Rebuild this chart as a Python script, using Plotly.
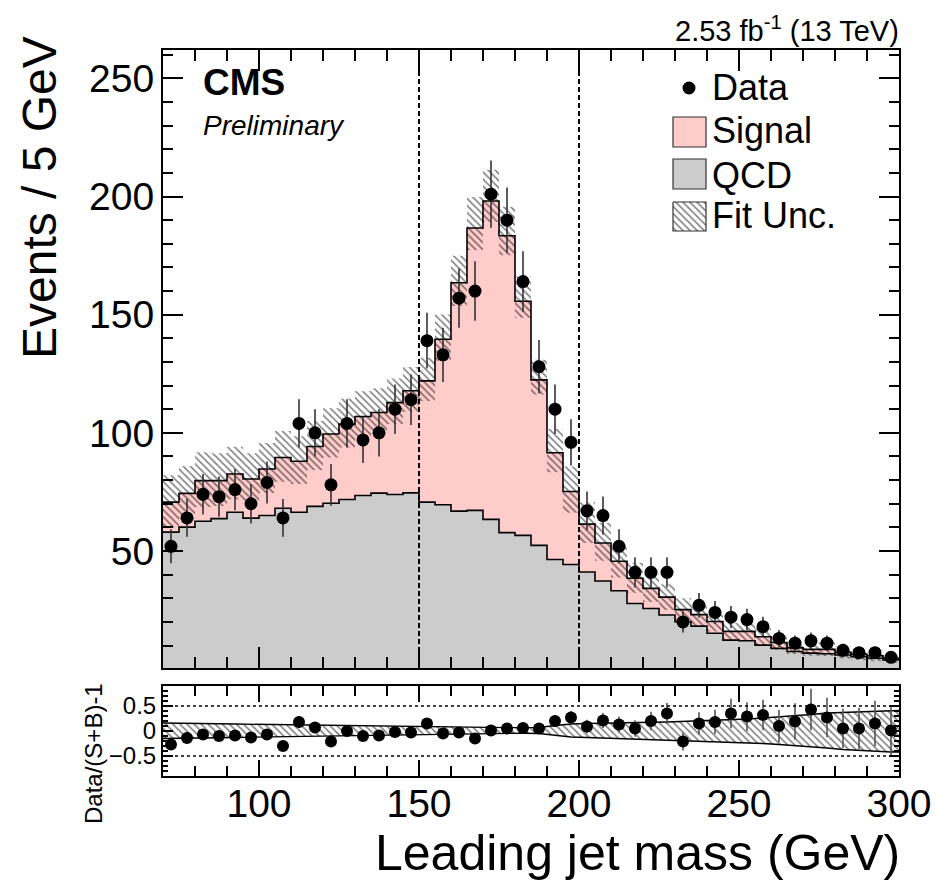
import numpy as np
import plotly.graph_objects as go

# ---------------- data ----------------
bin_edges = list(range(70, 305, 5))          # 70 ... 300, 46 bins of 5 GeV
bin_centers = [e + 2.5 for e in bin_edges[:-1]]

data = [52, 64, 74, 73, 76, 70, 79, 64, 104, 100, 78, 104, 97, 100, 110, 114,
        139, 133, 157, 160, 201, 190, 164, 128, 110, 96, 67, 65, 52, 41, 41, 41,
        20, 27, 24, 22, 21, 18, 13, 11, 12, 11, 8, 7, 7, 5]
data_err = [7.2, 8.0, 8.6, 8.5, 8.7, 8.4, 8.9, 8.0, 10.2, 10.0, 8.8, 10.2, 9.8, 10.0,
            10.5, 10.7, 11.8, 11.5, 12.5, 12.6, 14.2, 13.8, 12.8, 11.3, 10.5, 9.8,
            8.2, 8.1, 7.2, 6.4, 6.4, 6.4, 4.5, 5.2, 4.9, 4.7, 4.6, 4.2, 3.6, 3.3,
            3.5, 3.3, 2.8, 2.6, 2.6, 2.2]
qcd = [58.0, 60.1, 62.6, 63.7, 66.4, 63.9, 65.0, 68.1, 66.4, 68.9, 70.2, 71.8,
       73.5, 74.5, 73.9, 74.6, 70.7, 69.6, 66.9, 67.2, 63.4, 57.8, 56.6, 52.4,
       46.4, 44.3, 41.1, 37.3, 33.2, 27.8, 25.7, 22.9, 20.1, 18.2, 15.2, 12.3,
       12.0, 10.2, 8.8, 7.5, 6.8, 6.5, 6.0, 5.3, 4.6, 3.9]
signal = [12.7, 14.3, 17.2, 16.1, 16.2, 16.6, 19.7, 21.5, 21.6, 25.3, 29.3, 31.9,
          33.4, 34.1, 38.9, 43.2, 51.3, 70.0, 96.6, 119.5, 134.7, 125.6, 99.1, 70.0,
          45.2, 30.9, 20.3, 16.1, 12.5, 10.7, 8.5, 7.6, 5.1, 4.9, 5.0, 3.7,
          4.0, 3.5, 2.5, 1.5, 1.6, 1.9, 1.1, 1.0, 1.1, 0.6]
# relative fit uncertainty (upper / lower edge of the band)
rel_up = [0.16, 0.155, 0.15, 0.145, 0.14, 0.135, 0.13, 0.125, 0.12, 0.115, 0.11,
          0.105, 0.10, 0.095, 0.09, 0.085, 0.08, 0.075, 0.07, 0.07, 0.067, 0.067,
          0.067, 0.07, 0.11, 0.14, 0.15, 0.16, 0.165, 0.17, 0.175, 0.18, 0.19,
          0.20, 0.21, 0.22, 0.24, 0.26, 0.28, 0.30, 0.33, 0.36, 0.37, 0.38, 0.40, 0.41]
rel_dn = [-0.15, -0.145, -0.14, -0.135, -0.13, -0.125, -0.12, -0.115, -0.11, -0.105,
          -0.10, -0.095, -0.09, -0.085, -0.08, -0.075, -0.07, -0.065, -0.06, -0.05,
          -0.045, -0.045, -0.045, -0.05, -0.09, -0.12, -0.13, -0.14, -0.15, -0.16,
          -0.17, -0.18, -0.19, -0.20, -0.21, -0.22, -0.23, -0.25, -0.27, -0.29,
          -0.32, -0.34, -0.37, -0.39, -0.41, -0.42]
ratio = [-0.27, -0.14, -0.07, -0.10, -0.09, -0.13, -0.07, -0.30, 0.18, 0.07, -0.21,
         0.0, -0.10, -0.09, -0.02, -0.03, 0.15, -0.05, -0.03, -0.15, 0.01, 0.05,
         0.06, 0.05, 0.20, 0.27, 0.09, 0.21, 0.13, 0.05, 0.20, 0.35, -0.21, 0.15,
         0.18, 0.35, 0.29, 0.32, 0.10, 0.19, 0.43, 0.27, 0.05, 0.05, 0.15, 0.01]

x_ticks = [100, 150, 200, 250, 300]
y_ticks = [50, 100, 150, 200, 250]
r_ticks = [-0.5, 0, 0.5]
window_lines = [150, 200]

# ---------------- derived ----------------
qcd_a = np.array(qcd)
total = qcd_a + np.array(signal)
band_hi = total * (1 + np.array(rel_up))
band_lo = total * (1 + np.array(rel_dn))
ratio_err = np.array(data_err) / total


def step(vals):
    v = list(vals)
    return v + [v[-1]]


FONT = "Liberation Sans"
W, H = 936, 881
ML, MR, MT, MB = 163, 37, 50, 105
PW, PH = W - ML - MR, H - MT - MB


def px(xp):
    return (xp - ML) / PW


def py(yp):
    return (H - MB - yp) / PH


main_bottom = py(668)
ratio_top = py(686)

HATCH = dict(shape="\\", fgcolor="black", size=5.0, solidity=0.32)

fig = go.Figure()

# QCD filled histogram
fig.add_trace(go.Scatter(x=bin_edges, y=step(qcd), mode="lines", line=dict(shape="hv", width=0),
                         fill="tozeroy", fillcolor="#CCCCCC", hoverinfo="skip",
                         showlegend=False, xaxis="x", yaxis="y"))
# Signal stacked on top
fig.add_trace(go.Scatter(x=bin_edges, y=step(total), mode="lines", line=dict(shape="hv", width=0),
                         fill="tonexty", fillcolor="#FFCCCC", hoverinfo="skip",
                         showlegend=False, xaxis="x", yaxis="y"))
# Fit uncertainty band (hatched)
fig.add_trace(go.Scatter(x=bin_edges, y=step(band_lo), mode="lines", line=dict(shape="hv", width=0),
                         hoverinfo="skip", showlegend=False, xaxis="x", yaxis="y"))
fig.add_trace(go.Scatter(x=bin_edges, y=step(band_hi), mode="lines", line=dict(shape="hv", width=0),
                         fill="tonexty", fillcolor="rgba(0,0,0,0)", fillpattern=HATCH,
                         hoverinfo="skip", showlegend=False, xaxis="x", yaxis="y"))
# outlines
fig.add_trace(go.Scatter(x=bin_edges, y=step(qcd), mode="lines",
                         line=dict(shape="hv", width=1.6, color="black"),
                         hoverinfo="skip", showlegend=False, xaxis="x", yaxis="y"))
fig.add_trace(go.Scatter(x=bin_edges, y=step(total), mode="lines",
                         line=dict(shape="hv", width=1.6, color="black"),
                         hoverinfo="skip", showlegend=False, xaxis="x", yaxis="y"))
# data
fig.add_trace(go.Scatter(x=bin_centers, y=data, mode="markers",
                         marker=dict(color="black", size=13),
                         error_y=dict(type="data", array=data_err, width=0, thickness=1.6, color="#333333"),
                         showlegend=False, xaxis="x", yaxis="y"))

# ratio panel band
band_x = [bin_edges[0]] + bin_centers + [bin_edges[-1]]
fig.add_trace(go.Scatter(x=band_x, y=[rel_dn[0]] + rel_dn + [rel_dn[-1]], mode="lines",
                         line=dict(width=1.3, color="black"), hoverinfo="skip",
                         showlegend=False, xaxis="x2", yaxis="y2"))
fig.add_trace(go.Scatter(x=band_x, y=[rel_up[0]] + rel_up + [rel_up[-1]], mode="lines",
                         line=dict(width=1.3, color="black"), fill="tonexty",
                         fillcolor="rgba(0,0,0,0)", fillpattern=HATCH,
                         hoverinfo="skip", showlegend=False, xaxis="x2", yaxis="y2"))
fig.add_trace(go.Scatter(x=bin_centers, y=ratio, mode="markers",
                         marker=dict(color="black", size=12),
                         error_y=dict(type="data", array=list(ratio_err), width=0, thickness=1.6, color="#555555"),
                         showlegend=False, xaxis="x2", yaxis="y2"))

# legend hatch glyph on a hidden pixel-coordinate axis
fig.add_trace(go.Scatter(x=[673, 706, 706, 673, 673], y=[202, 202, 231, 231, 202], mode="lines",
                         line=dict(width=1.2, color="#333333"), fill="toself", fillcolor="white",
                         fillpattern=dict(shape="\\", fgcolor="black", bgcolor="white", size=5.0,
                                          solidity=0.32),
                         hoverinfo="skip", showlegend=False, xaxis="x3", yaxis="y3"))

axis_common = dict(showline=True, linewidth=2, linecolor="black", mirror="ticks",
                   ticks="inside", tickwidth=2, tickcolor="black", showgrid=False,
                   zeroline=False, automargin=False)

fig.update_layout(
    width=W, height=H, paper_bgcolor="white", plot_bgcolor="rgba(0,0,0,0)",
    margin=dict(l=ML, r=MR, t=MT, b=MB, autoexpand=False),
    font=dict(family=FONT, color="black"),
    showlegend=False,
    xaxis=dict(domain=[0, 1], anchor="y", range=[70, 300], tickvals=x_ticks, showticklabels=False,
               ticklen=21, minor=dict(dtick=10, tick0=0, ticklen=11, ticks="inside", tickwidth=2,
                                      tickcolor="black"), **axis_common),
    yaxis=dict(domain=[main_bottom, 1], anchor="x", range=[0.5, 262], tickvals=y_ticks,
               ticklen=20, tickfont=dict(size=39), ticklabelstandoff=-1,
               minor=dict(dtick=10, tick0=0, ticklen=10, ticks="inside", tickwidth=2, tickcolor="black"),
               **axis_common),
    xaxis2=dict(domain=[0, 1], anchor="y2", range=[70, 300], tickvals=x_ticks, ticklen=16,
                tickfont=dict(size=39), ticklabelstandoff=-8,
                minor=dict(dtick=10, tick0=0, ticklen=10, ticks="inside", tickwidth=2, tickcolor="black"),
                **axis_common),
    yaxis2=dict(domain=[0, ratio_top], anchor="x2", range=[-0.9, 0.9], tickvals=r_ticks,
                ticktext=["\u22120.5", "0", "0.5"], ticklen=10, tickfont=dict(size=24),
                ticklabelstandoff=0,
                minor=dict(dtick=0.1, tick0=0, ticklen=5, ticks="inside", tickwidth=1.5, tickcolor="black"),
                **axis_common),
    xaxis3=dict(domain=[0, 1], anchor="y3", range=[ML, W - MR], visible=False, fixedrange=True),
    yaxis3=dict(domain=[0, 1], anchor="x3", range=[H - MB, MT], visible=False, fixedrange=True),
)

shapes = []
for xv in window_lines:
    shapes.append(dict(type="line", xref="x", yref="y domain", x0=xv, x1=xv, y0=0, y1=1,
                       line=dict(color="black", width=2, dash="5px,3px")))
for yv in [-0.5, 0.5]:
    shapes.append(dict(type="line", xref="x2 domain", yref="y2", x0=0, x1=1, y0=yv, y1=yv,
                       line=dict(color="black", width=1.5, dash="dot")))
# legend glyphs
shapes.append(dict(type="circle", xref="paper", yref="paper", x0=px(682.5), x1=px(695.5),
                   y0=py(94.5), y1=py(81.5), fillcolor="black", line=dict(width=0)))
shapes.append(dict(type="rect", xref="paper", yref="paper", x0=px(673), x1=px(706),
                   y0=py(147), y1=py(117), fillcolor="#FFCCCC", line=dict(color="#333333", width=1.2)))
shapes.append(dict(type="rect", xref="paper", yref="paper", x0=px(673), x1=px(706),
                   y0=py(189), y1=py(159), fillcolor="#CCCCCC", line=dict(color="#333333", width=1.2)))
fig.update_layout(shapes=shapes)


def ann(text, xp, yp, size, xanchor="left", yanchor="middle", angle=0):
    return dict(text=text, xref="paper", yref="paper", x=px(xp), y=py(yp), xanchor=xanchor,
                yanchor=yanchor, showarrow=False, textangle=angle,
                font=dict(family=FONT, size=size, color="black"))


annotations = [
    ann("<b>CMS</b>", 201, 83, 37),
    ann("<i>Preliminary</i>", 201, 126, 28),
    ann("2.53 fb<sup>-1</sup> (13 TeV)", 901, 29, 29, xanchor="right"),
    ann("Data", 710, 88, 36),
    ann("Signal", 710, 131, 36),
    ann("QCD", 710, 175, 36),
    ann("Fit Unc.", 710, 216, 36),
    ann("Events / 5 GeV", 40, 198, 48, xanchor="center", angle=-90),
    ann("Data/(S+B)-1", 93, 754, 24, xanchor="center", angle=-90),
    ann("Leading jet mass (GeV)", 902, 853, 50, xanchor="right"),
]
fig.update_layout(annotations=annotations)

fig.write_html("out.html", config={"displayModeBar": False},
               post_script="document.body.style.margin='0px';document.body.style.overflow='hidden';")
